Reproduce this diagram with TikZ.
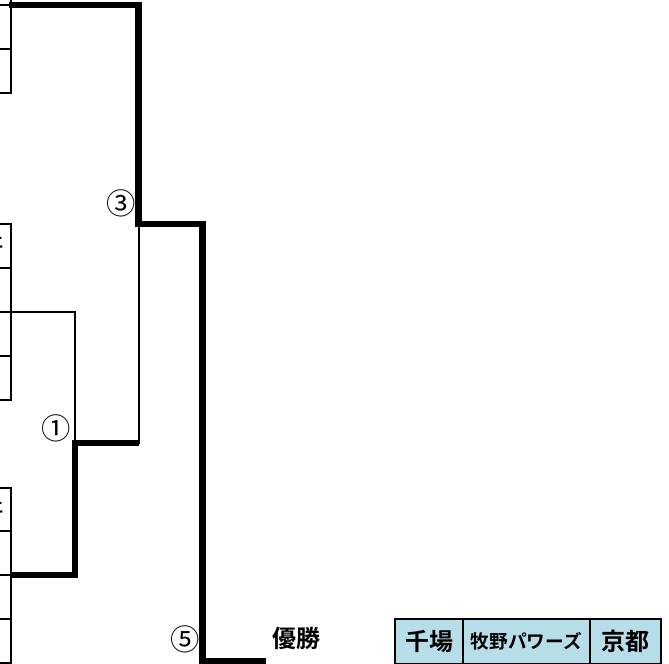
\documentclass[tikz,border=0pt]{standalone}
\usepackage{fontspec}
\newfontfamily\jp{Noto Sans CJK JP}[BoldFont={Noto Sans CJK JP Bold}]
\begin{document}
\begin{tikzpicture}[x=0.75pt,y=-0.75pt,
  thinline/.style={line width=1.5pt, line join=miter, line cap=rect},
  boldline/.style={line width=5pt, line join=miter},
  num/.style={font=\jp\fontsize{22pt}{22pt}\selectfont, inner sep=0pt},
  winlabel/.style={font=\jp\bfseries\fontsize{18pt}{18pt}\selectfont, inner sep=0pt},
  cell/.style={draw=black, line width=1.5pt, fill=cellblue, minimum height=45*0.75pt, inner sep=0pt, anchor=north west}]
\definecolor{cellblue}{HTML}{B7DEE8}
\useasboundingbox (0,0) rectangle (669,664);
% team cells at the left edge
\draw[thinline] (0,5) -- (11,5) (0,49) -- (11,49) (0,93) -- (11,93) (11,0) -- (11,93);
\draw[thinline] (0,224) -- (11,224) (0,268) -- (11,268) (0,312) -- (11,312) (0,356) -- (11,356) (0,400) -- (11,400) (11,224) -- (11,400);
\draw[thinline] (0,488) -- (11,488) (0,531) -- (11,531) (0,575) -- (11,575) (0,619) -- (11,619) (0,663) -- (11,663) (11,488) -- (11,663);
\node[font=\jp\bfseries\fontsize{12pt}{12pt}\selectfont, anchor=east, inner sep=0pt] (frag1) at (4,243) {エ};
\node[font=\jp\bfseries\fontsize{12pt}{12pt}\selectfont, anchor=east, inner sep=0pt] (frag2) at (4,508) {エ};
% bracket points
\coordinate (t1) at (9,5);
\coordinate (t2) at (11,312);
\coordinate (t3) at (11,575);
\coordinate (m1) at (75,443);
\coordinate (m2) at (138.5,224);
\coordinate (w) at (202.5,661);
\coordinate (wend) at (266,661);
% thin (losing) lines
\draw[thinline] (t2) -- (t2 -| m1) -- (m1);
\draw[thinline] (m1 -| m2) -- (m2);
% bold (winning) lines
\draw[boldline] (t3) -- (t3 -| m1) -- (m1) -- (m1 -| m2);
\draw[boldline] (t1) -- (t1 -| m2) -- (m2) -- (m2 -| w) -- (w) -- (wend);
% round numbers
\node[num] (r3) at (121,203) {③};
\node[num] (r1) at (56,428) {①};
\node[num] (r5) at (185,639) {⑤};
\node[winlabel, anchor=west] (champ) at (272,638) {優勝};
% result table
\node[cell, minimum width=68*0.75pt, font=\jp\bfseries\fontsize{18pt}{18pt}\selectfont] (c1) at (394,618) {千場};
\node[cell, minimum width=127*0.75pt, font=\jp\bfseries\fontsize{14pt}{14pt}\selectfont] (c2) at (462,618) {牧野パワーズ};
\node[cell, minimum width=71*0.75pt, font=\jp\bfseries\fontsize{18pt}{18pt}\selectfont] (c3) at (589,618) {京都};
\end{tikzpicture}
\end{document}
